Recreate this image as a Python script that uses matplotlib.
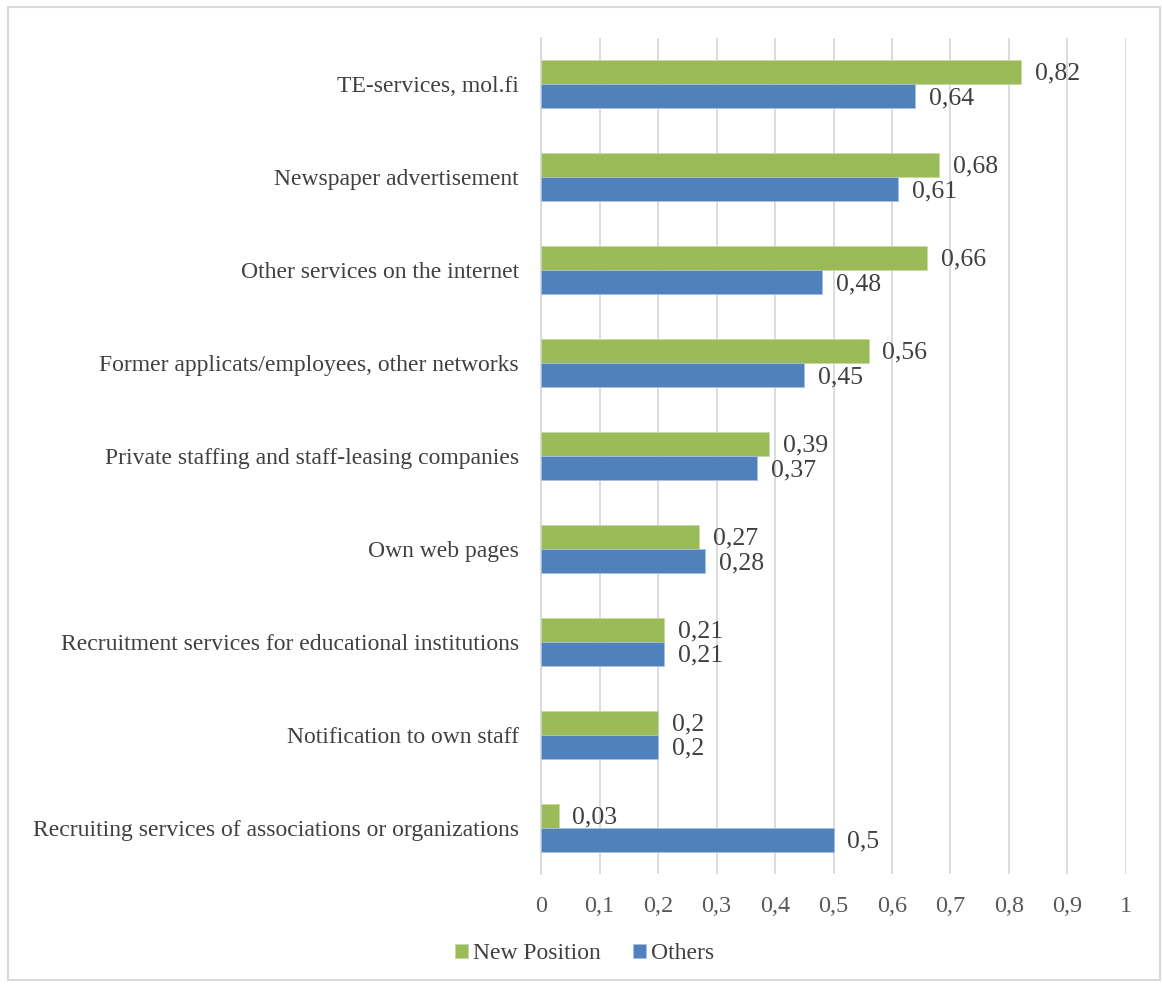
import matplotlib.pyplot as plt
import numpy as np
from matplotlib.patches import Rectangle

categorias = [
    'TE-services, mol.fi',
    'Newspaper advertisement',
    'Other services on the internet',
    'Former applicats/employees, other networks',
    'Private staffing and staff-leasing companies',
    'Own web pages',
    'Recruitment services for educational institutions',
    'Notification to own staff',
    'Recruiting services of associations or organizations',
]
nueva_posicion = [0.82, 0.68, 0.66, 0.56, 0.39, 0.27, 0.21, 0.2, 0.03]
otros = [0.64, 0.61, 0.48, 0.45, 0.37, 0.28, 0.21, 0.2, 0.5]
ticks_x = [0, 0.1, 0.2, 0.3, 0.4, 0.5, 0.6, 0.7, 0.8, 0.9, 1]

VERDE = '#9BBB59'
AZUL = '#4F81BD'
GRIS_TXT = '#404040'

plt.rcParams['font.family'] = ['Liberation Serif', 'DejaVu Serif']


def fmt(v):
    s = f'{v:.2f}'.rstrip('0').rstrip('.')
    return s.replace('.', ',')


fig = plt.figure(figsize=(11.62, 9.85), dpi=100)
ax = fig.add_axes([0.4656, 0.1127, 0.5034, 0.8487])

n = len(categorias)
y = np.arange(n)
alto = 0.258

ax.barh(y - alto / 2, nueva_posicion, height=alto, color=VERDE,
        edgecolor='#c8d9a8', linewidth=0.6, label='New Position', zorder=3)
ax.barh(y + alto / 2, otros, height=alto, color=AZUL,
        edgecolor='#a9c0dd', linewidth=0.6, label='Others', zorder=3)

for i in range(n):
    ax.annotate(fmt(nueva_posicion[i]), (nueva_posicion[i], y[i] - alto / 2),
                xytext=(10, -1), textcoords='offset points', va='center',
                ha='left', fontsize=18.5, color=GRIS_TXT)
    ax.annotate(fmt(otros[i]), (otros[i], y[i] + alto / 2),
                xytext=(10, -1.5), textcoords='offset points', va='center',
                ha='left', fontsize=18.5, color=GRIS_TXT)

ax.set_ylim(n - 0.5, -0.5)
ax.set_xlim(0, 1)
ax.set_yticks(y)
ax.set_yticklabels(categorias, fontsize=17, color=GRIS_TXT)
ax.set_xticks(ticks_x)
ax.set_xticklabels([fmt(t) for t in ticks_x], fontsize=17.5, color='#595959')
ax.tick_params(axis='both', length=0)
ax.tick_params(axis='x', pad=16)
ax.tick_params(axis='y', pad=16)

ax.grid(axis='x', color='#d9d9d9', linewidth=1.3, zorder=0)
for lado in ['top', 'right', 'bottom']:
    ax.spines[lado].set_visible(False)
ax.spines['left'].set_color('#d9d9d9')
ax.spines['left'].set_linewidth(1.3)

fig.legend(loc='center', bbox_to_anchor=(0.503, 0.032), ncol=2, frameon=False,
           fontsize=17, handlelength=0.55, handleheight=0.55, handletextpad=0.2,
           columnspacing=1.4, labelcolor=GRIS_TXT)

# borde del grafico
fig.patches.append(Rectangle((0.007, 0.005), 0.991, 0.988, transform=fig.transFigure,
                             fill=False, edgecolor='#d9d9d9', linewidth=1.5))

fig.savefig('out.png', dpi=100)
